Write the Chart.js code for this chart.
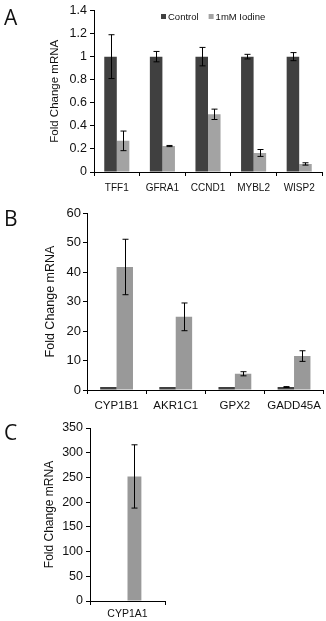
<!DOCTYPE html>
<html>
<head>
<meta charset="utf-8">
<script src="https://cdn.jsdelivr.net/npm/chart.js@4"></script>
<style>
  body { margin: 0; background: #fff; }
  #wrap { position: relative; width: 326px; height: 621px; overflow: hidden; }
  .panel { position: absolute; left: 0; width: 326px; }
  .letter { position: absolute; left: 4px; font-family: "Open Sans", sans-serif; font-size: 21px; color: #111; line-height: 1; }
</style>
</head>
<body>
<div id="wrap">
  <div class="panel" style="top:0;height:200px"><canvas id="chartA" width="326" height="200"></canvas></div>
  <div class="panel" style="top:200px;height:215px"><canvas id="chartB" width="326" height="215"></canvas></div>
  <div class="panel" style="top:415px;height:206px"><canvas id="chartC" width="326" height="206"></canvas></div>
  <div class="letter" style="top:7px">A</div>
  <div class="letter" style="top:208px">B</div>
  <div class="letter" style="top:422px">C</div>
</div>
<script>
// panel A
const catsA = ['TFF1', 'GFRA1', 'CCND1', 'MYBL2', 'WISP2'];
const ctrlA = [1, 1, 1, 1, 1];
const ctrlErrA = [0.19, 0.045, 0.08, 0.02, 0.035];
const iodA = [0.27, 0.225, 0.50, 0.165, 0.07];
const iodErrA = [0.085, 0.005, 0.045, 0.03, 0.01];

// panel B
const catsB = ['CYP1B1', 'AKR1C1', 'GPX2', 'GADD45A'];
const ctrlB = [1, 1, 1, 1];
const ctrlErrB = [0, 0, 0, 0.15];
const iodB = [41.7, 24.8, 5.5, 11.5];
const iodErrB = [9.4, 4.7, 0.7, 1.8];

// panel C
const catsC = ['CYP1A1'];
const ctrlC = [1];
const ctrlErrC = [0];
const iodC = [252];
const iodErrC = [64];

const DARK = '#404040';
const LIGHT_A = '#a3a3a3';
const MID = '#999999';
const FONT = 'Liberation Sans, Arial, sans-serif';

// draws error bars from each dataset's "errors" array
const errorBars = {
    id: 'errorBars',
    afterDatasetsDraw(chart) {
        const ctx = chart.ctx;
        const y = chart.scales.y;
        ctx.save();
        ctx.strokeStyle = '#000';
        ctx.lineWidth = 1;
        chart.data.datasets.forEach((ds, di) => {
            if (!ds.errors) return;
            const meta = chart.getDatasetMeta(di);
            meta.data.forEach((bar, i) => {
                const v = ds.data[i], e = ds.errors[i];
                if (!e) return;
                const x = Math.round(bar.x) + 0.5;
                const top = y.getPixelForValue(v + e);
                const bot = y.getPixelForValue(v - e);
                ctx.beginPath();
                ctx.moveTo(x, top); ctx.lineTo(x, bot);
                ctx.moveTo(x - 3, top); ctx.lineTo(x + 3, top);
                ctx.moveTo(x - 3, bot); ctx.lineTo(x + 3, bot);
                ctx.stroke();
            });
        });
        ctx.restore();
    }
};

// small legend drawn inside the plot, like the Excel original
const innerLegend = {
    id: 'innerLegend',
    afterDraw(chart, args, opts) {
        if (!opts.show) return;
        const ctx = chart.ctx;
        ctx.save();
        ctx.font = '9.5px ' + FONT;
        ctx.textBaseline = 'middle';
        let x = opts.x;
        chart.data.datasets.forEach((ds) => {
            ctx.fillStyle = ds.backgroundColor;
            ctx.fillRect(x, opts.y - 3, 5, 5);
            x += 7;
            ctx.fillStyle = '#111';
            ctx.fillText(ds.label, x, opts.y);
            x += ctx.measureText(ds.label).width + 10;
        });
        ctx.restore();
    }
};

function makeChart(id, o) {
    return new Chart(document.getElementById(id), {
        type: 'bar',
        data: {
            labels: o.cats,
            datasets: [
                { label: 'Control', data: o.ctrl, errors: o.ctrlErr, backgroundColor: DARK, categoryPercentage: o.cp, barPercentage: 1 },
                { label: '1mM Iodine', data: o.iod, errors: o.iodErr, backgroundColor: o.color, categoryPercentage: o.cp, barPercentage: 1 }
            ]
        },
        options: {
            responsive: false,
            animation: false,
            layout: { padding: o.pad },
            plugins: {
                tooltip: { enabled: false },
                legend: { display: false },
                innerLegend: { show: !!o.legend, x: 161, y: 17 }
            },
            scales: {
                x: {
                    afterFit: (s) => { s.height = o.xh; },
                    grid: { drawOnChartArea: false, drawTicks: true, tickLength: 4, color: '#000' },
                    border: { display: true, color: '#000' },
                    ticks: {
                        color: '#111', padding: o.xpad, minRotation: 0, maxRotation: 0, autoSkip: false,
                        font: { family: FONT, size: o.xfont }
                    }
                },
                y: {
                    min: 0,
                    max: o.max,
                    afterFit: (s) => { s.width = o.yw; },
                    grid: { drawOnChartArea: false, drawTicks: true, tickLength: 4, color: '#000' },
                    border: { display: true, color: '#000' },
                    ticks: {
                        stepSize: o.step, color: '#111', padding: o.ypad,
                        font: { family: FONT, size: o.yfont },
                        callback: (v) => String(Math.round(v * 10) / 10)
                    },
                    title: {
                        display: true,
                        text: 'Fold Change mRNA',
                        color: '#111',
                        padding: { top: o.tpad, bottom: 0 },
                        font: { family: FONT, size: o.tfont }
                    }
                }
            }
        },
        plugins: [errorBars, innerLegend]
    });
}

window.addEventListener('DOMContentLoaded', () => {
    makeChart('chartA', {
        cats: catsA, ctrl: ctrlA, ctrlErr: ctrlErrA, iod: iodA, iodErr: iodErrA,
        color: LIGHT_A, cp: 0.55, legend: true, max: 1.4, step: 0.2,
        pad: { left: 0, right: 4, top: 10, bottom: 0 }, yw: 94, xh: 28,
        xpad: 6, xfont: 10, ypad: 3, yfont: 12.5, tpad: 48, tfont: 11.5
    });
    makeChart('chartB', {
        cats: catsB, ctrl: ctrlB, ctrlErr: ctrlErrB, iod: iodB, iodErr: iodErrB,
        color: MID, cp: 0.555, max: 60, step: 10,
        pad: { left: 0, right: 1, top: 13, bottom: 0 }, yw: 87, xh: 25,
        xpad: 5, xfont: 11.5, ypad: 2, yfont: 13, tpad: 43, tfont: 12.5
    });
    makeChart('chartC', {
        cats: catsC, ctrl: ctrlC, ctrlErr: ctrlErrC, iod: iodC, iodErr: iodErrC,
        color: MID, cp: 0.37, max: 350, step: 50,
        pad: { left: 0, right: 161, top: 13, bottom: 0 }, yw: 90, xh: 20,
        xpad: 3, xfont: 10.5, ypad: 3, yfont: 12.5, tpad: 42, tfont: 12
    });
});
</script>
</body>
</html>
